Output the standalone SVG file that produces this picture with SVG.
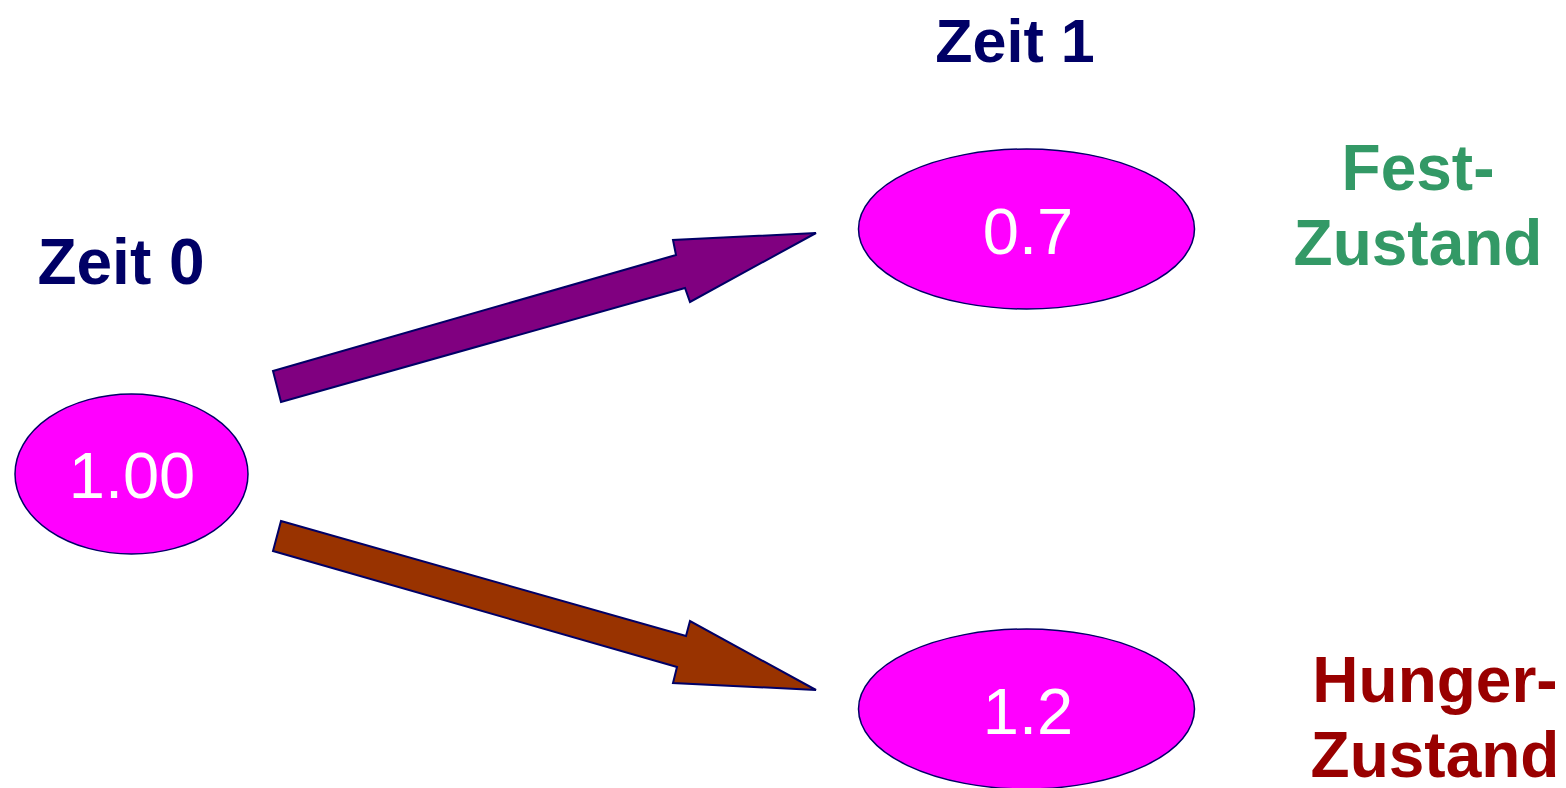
<svg xmlns="http://www.w3.org/2000/svg" width="1566" height="788" viewBox="0 0 1566 788">
  <style>
    .state { fill: #FF00FF; stroke: #000066; stroke-width: 1.5; }
    .value { font-family: "Liberation Sans", Arial, sans-serif; font-size: 65px; fill: #FFFFFF; text-anchor: middle; }
    .title { font-family: "Liberation Sans", Arial, sans-serif; font-size: 64px; font-weight: bold; fill: #000066; text-anchor: middle; }
    .label { font-family: "Liberation Sans", Arial, sans-serif; font-size: 64px; font-weight: bold; text-anchor: middle; }
    .arrow { stroke: #000066; stroke-width: 2; stroke-linejoin: miter; }
  </style>
  <rect width="1566" height="788" fill="#FFFFFF"/>

  <!-- time headings -->
  <g id="time0"><text class="title" x="121" y="284">Zeit 0</text></g>
  <g id="time1"><text class="title" x="1015" y="62" style="font-size:61px">Zeit 1</text></g>

  <!-- block arrows between states -->
  <g id="connectors">
    <polygon class="arrow" fill="#800080" points="273,371 676,255 673,240 816,233 690,302 685,288 281,402"/>
    <polygon class="arrow" fill="#993300" points="281,521 686,636 690,621 816,690 673,683 677,667 273,551"/>
  </g>

  <!-- states -->
  <g id="start">
    <ellipse class="state" cx="131.5" cy="474" rx="116.5" ry="80"/>
    <text class="value" x="132" y="498">1.00</text>
  </g>
  <g id="fest">
    <ellipse class="state" cx="1026.5" cy="229" rx="168" ry="80"/>
    <text class="value" x="1028" y="254">0.7</text>
  </g>
  <g id="hunger">
    <ellipse class="state" cx="1026.5" cy="709" rx="168" ry="80"/>
    <text class="value" x="1028" y="734">1.2</text>
  </g>

  <!-- state names -->
  <g id="fest-label" fill="#339966">
    <text class="label" x="1418" y="190">Fest-</text>
    <text class="label" x="1418" y="265">Zustand</text>
  </g>
  <g id="hunger-label" fill="#990000">
    <text class="label" x="1435" y="702">Hunger-</text>
    <text class="label" x="1435" y="777">Zustand</text>
  </g>
</svg>
